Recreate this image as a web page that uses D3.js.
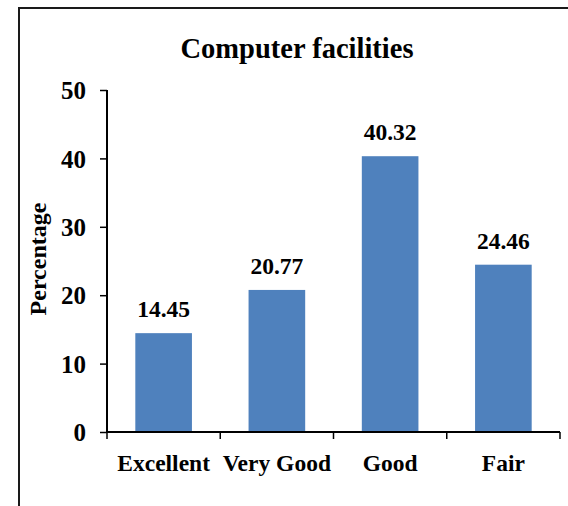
<!DOCTYPE html>
<html>
<head>
<meta charset="utf-8">
<script src="https://cdn.jsdelivr.net/npm/d3@7"></script>
<style>
  body { margin: 0; background: #fff; }
  svg text { font-family: "Liberation Serif", "Times New Roman", serif; font-weight: bold; fill: #000; }
</style>
</head>
<body>
<svg width="568" height="506"></svg>
<script>
// data
var categories = ["Excellent", "Very Good", "Good", "Fair"];
var values = [14.45, 20.77, 40.32, 24.46];
var yTicks = [0, 10, 20, 30, 40, 50];

var serif = '"Liberation Serif", "Times New Roman", serif';

var svg = d3.select("svg"),
    plot = {left: 107, right: 560, top: 90, bottom: 432};

// outer frame (runs off the right and bottom of the picture)
svg.append("rect")
    .attr("x", 19).attr("y", 8)
    .attr("width", 700).attr("height", 700)
    .attr("fill", "none")
    .attr("stroke", "#1a1a1a")
    .attr("stroke-width", 2);

var x = d3.scaleBand()
    .domain(categories)
    .range([plot.left, plot.right])
    .paddingInner(0.5)
    .paddingOuter(0.25);

var y = d3.scaleLinear()
    .domain([0, 50])
    .range([plot.bottom, plot.top]);

// title
svg.append("text")
    .attr("x", 297)
    .attr("y", 58)
    .attr("text-anchor", "middle")
    .style("font-size", "28.5px")
    .text("Computer facilities");

// bars
svg.append("g").selectAll("rect")
    .data(values).enter()
    .append("rect")
    .attr("x", function(d, i) { return x(categories[i]); })
    .attr("y", function(d) { return y(d); })
    .attr("width", x.bandwidth())
    .attr("height", function(d) { return y(0) - y(d); })
    .attr("fill", "#4F81BD");

// value labels
svg.append("g").selectAll("text")
    .data(values).enter()
    .append("text")
    .attr("x", function(d, i) { return x(categories[i]) + x.bandwidth() / 2; })
    .attr("y", function(d) { return y(d) - 16; })
    .attr("text-anchor", "middle")
    .style("font-size", "23.5px")
    .text(function(d) { return d.toFixed(2); });

// y axis
var yAxis = svg.append("g")
    .attr("transform", "translate(" + plot.left + ",0)")
    .call(d3.axisLeft(y).tickValues(yTicks).tickSize(7).tickPadding(14).tickFormat(d3.format("d")))
    .attr("font-family", serif);
yAxis.select(".domain").attr("stroke", "#000").attr("stroke-width", 2).attr("d", "M0," + plot.top + "V" + plot.bottom);
yAxis.selectAll(".tick line").attr("stroke", "#000").attr("stroke-width", 1.5);
yAxis.selectAll(".tick text").attr("dy", "0.35em")
    .style("font-size", "25px").style("font-family", serif).style("font-weight", "bold");

// x axis
var xAxis = svg.append("g")
    .attr("transform", "translate(0," + plot.bottom + ")")
    .call(d3.axisBottom(x).tickSize(0).tickPadding(22))
    .attr("font-family", serif);
xAxis.select(".domain").attr("stroke", "#000").attr("stroke-width", 2).attr("d", "M" + plot.left + ",0H" + plot.right);
xAxis.selectAll(".tick text").attr("dy", "0.71em")
    .style("font-size", "23.5px").style("font-family", serif).style("font-weight", "bold");

// category boundary ticks
xAxis.selectAll(".bound")
    .data(d3.range(categories.length + 1)).enter()
    .append("line")
    .attr("class", "bound")
    .attr("x1", function(i) { return x.range()[0] + i * x.step(); })
    .attr("x2", function(i) { return x.range()[0] + i * x.step(); })
    .attr("y1", 0).attr("y2", 7)
    .attr("stroke", "#000")
    .attr("stroke-width", 1.5);

// y axis title
svg.append("text")
    .attr("transform", "translate(46,259) rotate(-90)")
    .attr("text-anchor", "middle")
    .style("font-size", "24px")
    .text("Percentage");
</script>
</body>
</html>
